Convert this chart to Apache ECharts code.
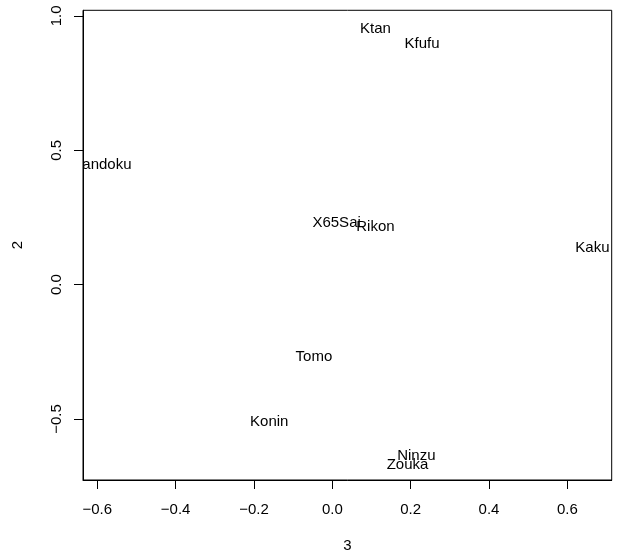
<!DOCTYPE html>
<html>
<head>
<meta charset="utf-8">
<script src="https://cdn.jsdelivr.net/npm/echarts@6/dist/echarts.min.js"></script>
<style>html,body{margin:0;padding:0;background:#fff}#c{width:618px;height:558px}</style>
</head>
<body>
<div id="c"></div>
<script>
var names = ["Ktan","Kfufu","X65Sai","Rikon","Kaku","Tandoku","Tomo","Konin","Ninzu","Zouka"];
var dim3 = [0.110, 0.229, 0.011, 0.110, 0.664, -0.585, -0.047, -0.161, 0.2145, 0.192];
var dim2 = [0.956, 0.901, 0.234, 0.220, 0.143, 0.453, -0.265, -0.506, -0.630, -0.665];
var xTicks = [-0.6, -0.4, -0.2, 0.0, 0.2, 0.4, 0.6];
var yTicks = [-0.5, 0.0, 0.5, 1.0];

var FONT = '"Liberation Sans", Arial, Helvetica, sans-serif';
var data = names.map(function (n, i) { return [dim3[i], dim2[i], n]; });

var chart = echarts.init(document.getElementById('c'), null, {renderer: 'canvas'});
chart.setOption({
  animation: false,
  backgroundColor: '#fff',
  grid: {left: 83, right: 6.3, top: 10.3, bottom: 75.7, show: true, borderColor: '#000', borderWidth: 1, backgroundColor: 'transparent'},
  xAxis: {
    type: 'value', min: -0.6365, max: 0.7133,
    name: '3', nameLocation: 'middle', nameGap: 58,
    nameTextStyle: {color: '#000', fontSize: 15, fontFamily: FONT},
    splitLine: {show: false},
    axisLine: {show: true, onZero: false, lineStyle: {color: '#000', width: 1}},
    axisTick: {show: true, length: 9, customValues: xTicks, lineStyle: {color: '#000'}},
    axisLabel: {customValues: xTicks, margin: 22, color: '#000', fontSize: 15, fontFamily: FONT,
      formatter: function (v) { return (v < 0 ? '\u2212' : '') + Math.abs(v).toFixed(1); }}
  },
  yAxis: {
    type: 'value', min: -0.727, max: 1.021,
    name: '2', nameLocation: 'middle', nameGap: 58, nameRotate: 90,
    nameTextStyle: {color: '#000', fontSize: 15, fontFamily: FONT},
    splitLine: {show: false},
    axisLine: {show: true, onZero: false, lineStyle: {color: '#000', width: 1}},
    axisTick: {show: true, length: 9, customValues: yTicks, lineStyle: {color: '#000'}},
    axisLabel: {customValues: yTicks, rotate: 90, margin: 19, color: '#000', fontSize: 15, fontFamily: FONT,
      formatter: function (v) { return (v < 0 ? '\u2212' : '') + Math.abs(v).toFixed(1); }}
  },
  series: [{
    type: 'custom',
    clip: true,
    data: data,
    renderItem: function (params, api) {
      var p = api.coord([api.value(0), api.value(1)]);
      return {
        type: 'text', x: p[0], y: p[1] + 1.5,
        style: {text: data[params.dataIndex][2], textAlign: 'center', textVerticalAlign: 'middle',
          font: '15px ' + FONT, fill: '#000'}
      };
    }
  }]
});
</script>
</body>
</html>
